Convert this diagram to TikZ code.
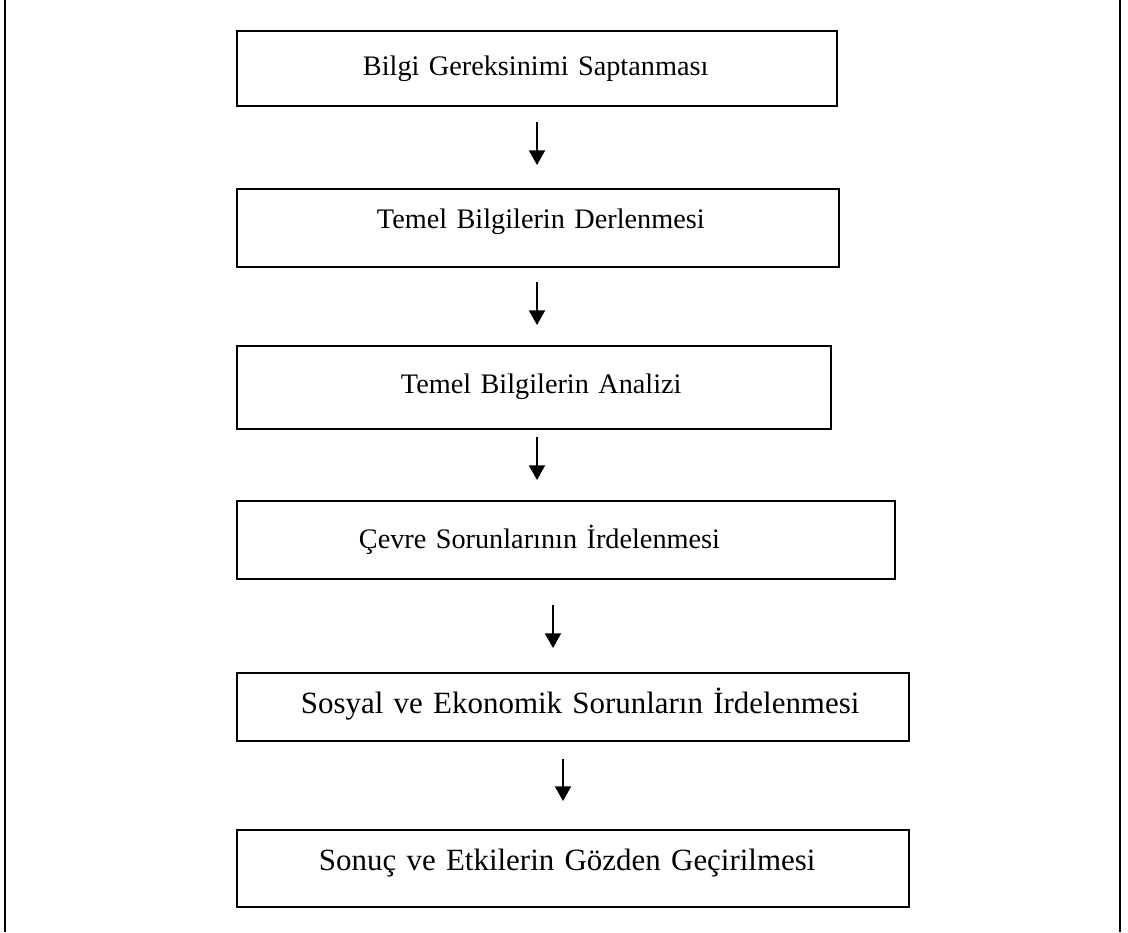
\documentclass[tikz,border=0pt]{standalone}
\usepackage{fontspec}
\setmainfont{Liberation Serif}
\usetikzlibrary{arrows.meta}
\begin{document}
\begin{tikzpicture}[x=0.75pt,y=-0.75pt,
  stepbox/.style={draw, line width=1.4pt, inner sep=0pt, anchor=north west,
    align=left, font=\fontsize{21.2}{26}\selectfont},
  widebox/.style={stepbox, font=\fontsize{23.2}{28}\selectfont},
  flow/.style={line width=1.5pt, -{Triangle[length=11pt,width=12pt]}},
  frameline/.style={line width=1.5pt}]
\useasboundingbox (0,0) rectangle (1128,932);

% side rules of the page frame
\coordinate (fl-top) at (5,0);    \coordinate (fl-bot) at (5,932);
\coordinate (fr-top) at (1120,0); \coordinate (fr-bot) at (1120,932);
\draw[frameline] (fl-top) -- (fl-bot);
\draw[frameline] (fr-top) -- (fr-bot);

% process steps
\node[stepbox, text width=450pt, text height=33.75pt, text depth=22.5pt] (b1) at (236,30)
  {\hspace*{94.5pt}Bilgi Gereksinimi Saptanması};
\node[stepbox, text width=451.5pt, text height=30pt, text depth=28.5pt] (b2) at (236,188)
  {\hspace*{105pt}Temel Bilgilerin Derlenmesi};
\node[stepbox, text width=445.5pt, text height=36pt, text depth=26.25pt] (b3) at (236,345)
  {\hspace*{123pt}Temel Bilgilerin Analizi};
\node[stepbox, text width=493.5pt, text height=36pt, text depth=22.5pt] (b4) at (236,500)
  {\hspace*{91.5pt}Çevre Sorunlarının İrdelenmesi};
\node[widebox, text width=504pt, text height=30.75pt, text depth=20.25pt] (b5) at (236,672)
  {\hspace*{48pt}Sosyal ve Ekonomik Sorunların İrdelenmesi};
\node[widebox, text width=504pt, text height=30.75pt, text depth=27pt] (b6) at (236,829)
  {\hspace*{61.5pt}Sonuç ve Etkilerin Gözden Geçirilmesi};

% arrow columns
\coordinate (ax1) at (537,0);
\coordinate (ax2) at (537,0);
\coordinate (ax3) at (537,0);
\coordinate (ax4) at (553,0);
\coordinate (ax5) at (563,0);

\draw[flow, shorten <=11.25pt, shorten >=17.25pt] (b1.south -| ax1) -- (b2.north -| ax1);
\draw[flow, shorten <=10.5pt,  shorten >=15pt]    (b2.south -| ax2) -- (b3.north -| ax2);
\draw[flow, shorten <=5.25pt,  shorten >=15pt]    (b3.south -| ax3) -- (b4.north -| ax3);
\draw[flow, shorten <=18.75pt, shorten >=18pt]    (b4.south -| ax4) -- (b5.north -| ax4);
\draw[flow, shorten <=12.75pt, shorten >=21pt]    (b5.south -| ax5) -- (b6.north -| ax5);
\end{tikzpicture}
\end{document}
